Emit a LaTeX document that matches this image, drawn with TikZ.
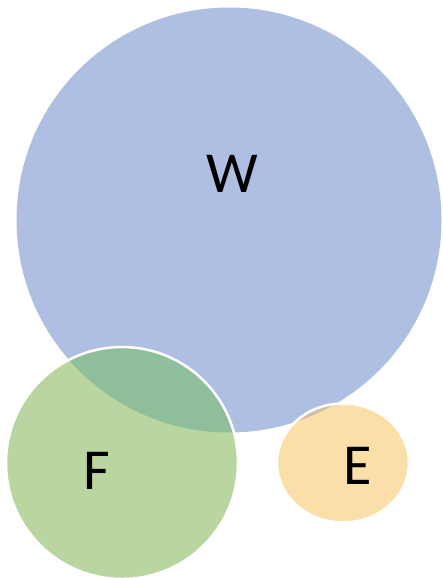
\documentclass[tikz,border=0pt]{standalone}
\usepackage{fontspec}
\setmainfont{Carlito}
\usepackage{xcolor}
\definecolor{blue1}{RGB}{175,191,226}
\definecolor{green1}{RGB}{185,213,160}
\definecolor{green2}{RGB}{143,190,155}
\definecolor{orange1}{RGB}{250,224,168}
\definecolor{orange2}{RGB}{205,190,168}

\begin{document}
\begin{tikzpicture}[x=1pt, y=-1pt,
  every node/.style={font=\fontsize{58}{60}\selectfont},
  rim/.style={draw=white, line width=2.5pt}]

\useasboundingbox (0,0) rectangle (443,578);

% centres of the three sets
\coordinate (cW) at (229,220);
\coordinate (cF) at (122,463);
\coordinate (cE) at (343,463);

% W (big blue circle)
\fill[blue1] (cW) circle[radius=212.5];

% F (green circle) and its overlap with W
\fill[green1] (cF) circle[radius=116];
\begin{scope}
  \clip (cF) circle[radius=116];
  \fill[green2] (cW) circle[radius=212.5];
\end{scope}
\draw[rim] (cF) circle[radius=116];

% E (orange oval) and the small sliver under W
\fill[orange1] (cE) ellipse[x radius=65, y radius=58.5];
\begin{scope}
  \clip (cE) ellipse[x radius=65, y radius=58.5];
  \fill[orange2] (cW) circle[radius=212.5];
\end{scope}
\draw[rim] (cE) ellipse[x radius=66, y radius=59.5];

% labels
\node (W) at (232,174) {W};
\node (F) at (97,471) {F};
\node (E) at (358,466) {E};

\end{tikzpicture}
\end{document}
